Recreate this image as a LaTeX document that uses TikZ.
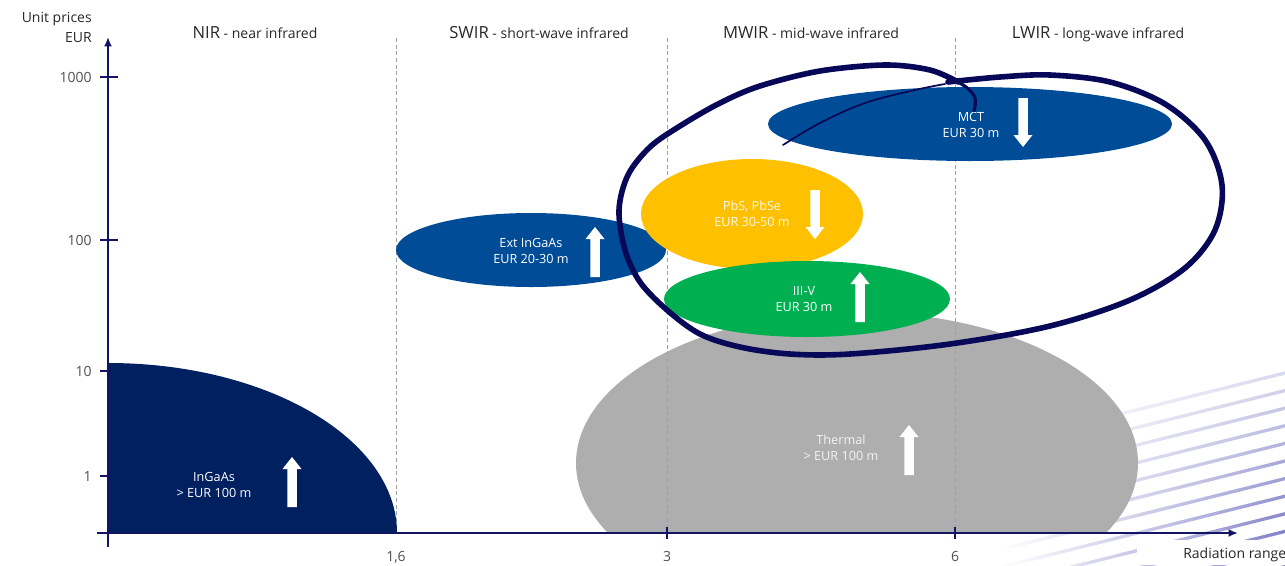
\documentclass[tikz,border=0pt]{standalone}
\usepackage{fontspec}
\setmainfont{Open Sans}
\usetikzlibrary{arrows.meta}
\definecolor{axisnavy}{RGB}{20,20,100}
\definecolor{loopnavy}{RGB}{8,8,88}
\definecolor{ingaas}{RGB}{0,32,96}
\definecolor{midblue}{RGB}{0,76,151}
\definecolor{ambery}{RGB}{255,192,0}
\definecolor{greeng}{RGB}{0,176,80}
\definecolor{thermgray}{RGB}{174,174,174}
\definecolor{stripe}{RGB}{130,130,200}
\definecolor{hdr}{RGB}{40,40,40}
\definecolor{ticklbl}{RGB}{80,80,80}
\newcommand\myuparrow[3]{%
  \fill[white] (#1-4.75,#3) -- (#1+4.75,#3) -- (#1+4.75,#2+12) -- (#1+9.5,#2+12)
    -- (#1,#2) -- (#1-9.5,#2+12) -- (#1-4.75,#2+12) -- cycle;}
\newcommand\mydownarrow[3]{%
  \fill[white] (#1-4.75,#2) -- (#1+4.75,#2) -- (#1+4.75,#3-12) -- (#1+9.5,#3-12)
    -- (#1,#3) -- (#1-9.5,#3-12) -- (#1-4.75,#3-12) -- cycle;}
\begin{document}
\begin{tikzpicture}[x=0.75pt,y=-0.75pt,
  axisline/.style={draw=axisnavy, line width=2pt},
  tickmark/.style={draw=axisnavy, line width=2pt},
  vdash/.style={draw=gray!75, line width=0.6pt, dash pattern=on 3pt off 2pt},
  lbl/.style={text=white, align=center, font=\fontsize{9.5}{12}\selectfont, inner sep=0pt},
  ylbl/.style={text=ticklbl, anchor=east, font=\fontsize{10.5}{12}\selectfont, inner sep=0pt},
  xlbl/.style={text=ticklbl, anchor=base, font=\fontsize{10.5}{12}\selectfont, inner sep=0pt},
  hdrlbl/.style={text=hdr, anchor=base, inner sep=0pt},
  loopstroke/.style={draw=loopnavy, line cap=round, line join=round}
]
\useasboundingbox (0,0) rectangle (1285,565);

% background stripes (bottom right)
\foreach \i in {0,...,11}{
  \pgfmathsetmacro\yr{373+17.6*\i}
  \pgfmathsetmacro\yl{\yr+71}
  \pgfmathtruncatemacro\pc{min(30+8*\i,100)}
  \shade[left color=white, right color=stripe!\pc] (1000,\yl-1.7) -- (1285,\yr-1.7) -- (1285,\yr+1.7) -- (1000,\yl+1.7) -- cycle;
}
\fill[white] (1137,540) rectangle (1285,565);

% thermal ellipse
\begin{scope}
  \clip (500,250) rectangle (1200,533);
  \fill[thermgray] (857,463) ellipse [x radius=281, y radius=151];
\end{scope}

% dashed region separators
\draw[vdash] (396,38) -- (396,533);
\draw[vdash] (667,38) -- (667,533);
\draw[vdash] (955,38) -- (955,533);

% InGaAs quarter ellipse
\begin{scope}
  \clip (108,300) rectangle (400,533);
  \fill[ingaas] (108,533) ellipse [x radius=289, y radius=170];
\end{scope}

% other ellipses
\fill[midblue] (531,250) ellipse [x radius=135, y radius=37];
\fill[midblue] (970,124) ellipse [x radius=202, y radius=37];
\fill[ambery] (752,214) ellipse [x radius=111, y radius=55];
\fill[greeng] (807,299) ellipse [x radius=143, y radius=38];

% labels inside shapes
\node[lbl] (ingaasl) at (214,485) {InGaAs\\> EUR 100 m};
\node[lbl] (extl) at (531,251) {Ext InGaAs\\EUR 20-30 m};
\node[lbl] (mctl) at (971,125) {MCT\\EUR 30 m};
\node[lbl, text=white!92!ambery] (pbsl) at (752,214) {PbS, PbSe\\EUR 30-50 m};
\node[lbl] (iiivl) at (804,299) {III-V\\EUR 30 m};
\node[lbl, text=white!85!thermgray] (therml) at (841,448) {Thermal\\> EUR 100 m};

% white trend arrows
\myuparrow{292}{457}{507}
\myuparrow{595}{227}{277}
\mydownarrow{1023}{98}{147}
\mydownarrow{815}{190}{239}
\myuparrow{860}{272}{322}
\myuparrow{909}{425}{475}

% axes
\draw[axisline, -{Latex[length=7pt,width=6pt]}] (108,547) -- (108,37);
\draw[axisline, -{Latex[length=7pt,width=6pt]}] (97,533) -- (1238,533);
\draw[tickmark] (100,77) -- (118,77);
\draw[tickmark] (100,240) -- (118,240);
\draw[tickmark] (100,371) -- (108,371);
\draw[tickmark] (100,476) -- (108,476);
\draw[tickmark, line width=1.6pt] (667,527) -- (667,539);
\draw[tickmark, line width=1.6pt] (955,527) -- (955,539);

% axis labels
\node[text=hdr, anchor=base east, font=\fontsize{10.5}{12}\selectfont, inner sep=0pt] (ytitle1) at (92,22) {Unit prices};
\node[text=hdr, anchor=base east, font=\fontsize{10.5}{12}\selectfont, inner sep=0pt] (ytitle2) at (92,42) {EUR};
\node[ylbl] (y1000) at (92,77) {1000};
\node[ylbl] (y100) at (92,240) {100};
\node[ylbl] (y10) at (92,371) {10};
\node[ylbl] (y1) at (92,476) {1};
\node[xlbl] (x16) at (396,561) {1,6};
\node[xlbl] (x3) at (667,561) {3};
\node[xlbl] (x6) at (955,561) {6};
\node[text=hdr, anchor=base west, font=\fontsize{10.5}{12}\selectfont, inner sep=0pt] (xtitle) at (1183,558) {Radiation range};

% region headers
\node[hdrlbl] (nir) at (255,38) {{\fontsize{12.5}{14}\selectfont NIR}{\fontsize{10.5}{12}\selectfont\ - near infrared}};
\node[hdrlbl] (swir) at (539,38) {{\fontsize{12.5}{14}\selectfont SWIR}{\fontsize{10.5}{12}\selectfont\ - short-wave infrared}};
\node[hdrlbl] (mwir) at (811,38) {{\fontsize{12.5}{14}\selectfont MWIR}{\fontsize{10.5}{12}\selectfont\ - mid-wave infrared}};
\node[hdrlbl] (lwir) at (1098,38) {{\fontsize{12.5}{14}\selectfont LWIR}{\fontsize{10.5}{12}\selectfont\ - long-wave infrared}};

% hand-drawn loop
\draw[loopstroke, line width=1.3pt] plot[smooth, tension=0.6] coordinates {(783,145) (820,123) (865,103) (915,90) (945,84)};
\draw[loopstroke, line width=4.2pt] plot[smooth, tension=0.55] coordinates {
  (948,82) (1000,77) (1050,75) (1110,82) (1165,104) (1205,140) (1222,185) (1215,230)
  (1185,268) (1130,300) (1050,326) (950,344) (850,354) (790,354) (740,347)
  (700,334) (667,310) (640,282) (625,250) (619,210) (628,175) (650,147)
  (680,126) (720,103) (760,86) (820,71) (885,65) (930,70) (958,82)};
\draw[loopstroke, line width=2.4pt] plot[smooth, tension=0.6] coordinates {(950,78) (966,87) (975,98) (974,111)};
\end{tikzpicture}
\end{document}
